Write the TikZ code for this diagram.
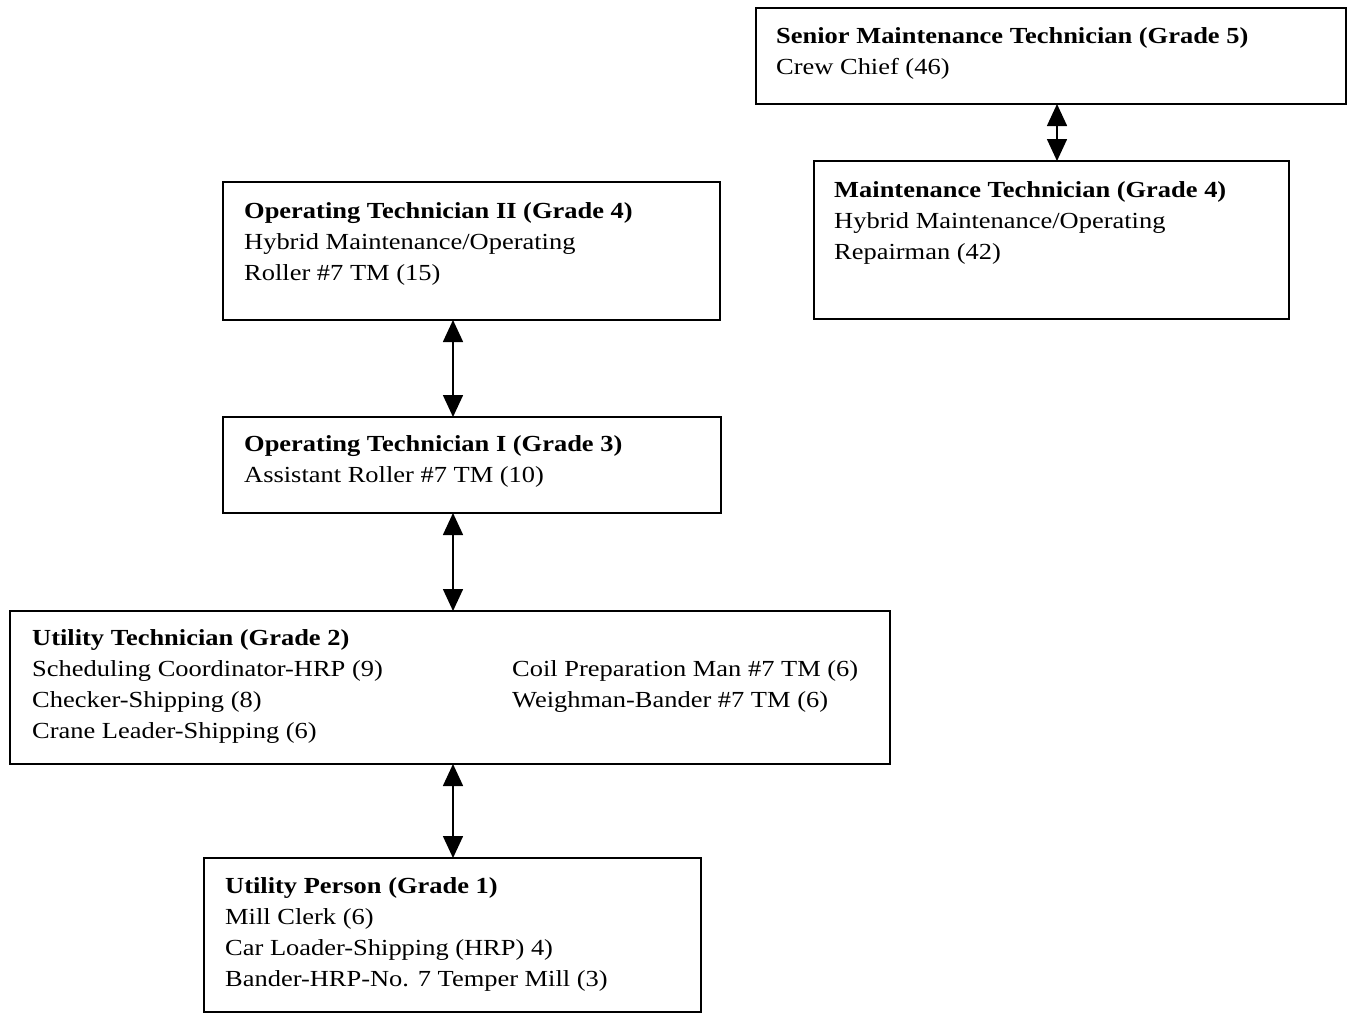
\documentclass[tikz,border=0pt]{standalone}
\usepackage{fontspec}
\setmainfont[FakeStretch=1.15]{Liberation Serif}
\usetikzlibrary{arrows.meta}
\tikzset{
  box/.style={draw, line width=1.8pt, inner sep=0pt, rectangle},
  txt/.style={anchor=north west, inner sep=0pt, align=left, font=\fontsize{23}{31}\selectfont},
  link/.style={line width=1.6pt, {Triangle[width=20pt,length=22pt]}-{Triangle[width=20pt,length=22pt]}, shorten <=0pt, shorten >=0pt}
}
\begin{document}
\begin{tikzpicture}[x=1pt,y=-1pt]
\useasboundingbox (0,0) rectangle (1350,1013);
% boxes
\node[box, minimum width=590pt, minimum height=96pt] (smt) at (1051,56) {};
\node[box, minimum width=475pt, minimum height=158pt] (mt) at (1051.5,240) {};
\node[box, minimum width=497pt, minimum height=138pt] (ot2) at (471.5,251) {};
\node[box, minimum width=498pt, minimum height=96pt] (ot1) at (472,465) {};
\node[box, minimum width=880pt, minimum height=153pt] (ut) at (450,687.5) {};
\node[box, minimum width=497pt, minimum height=154pt] (up) at (452.5,935) {};
% texts
\node[txt] (smtT) at (776,27) {\textbf{Senior Maintenance Technician (Grade 5)}\\Crew Chief (46)};
\node[txt] (mtT) at (834,181) {\textbf{Maintenance Technician (Grade 4)}\\Hybrid Maintenance/Operating\\Repairman (42)};
\node[txt] (ot2T) at (244,202) {\textbf{Operating Technician II (Grade 4)}\\Hybrid Maintenance/Operating\\Roller \#7 TM (15)};
\node[txt] (ot1T) at (244,435) {\textbf{Operating Technician I (Grade 3)}\\Assistant Roller \#7 TM (10)};
\node[txt] (utT) at (32,629) {\textbf{Utility Technician (Grade 2)}\\Scheduling Coordinator-HRP (9)\\Checker-Shipping (8)\\Crane Leader-Shipping (6)};
\node[txt] (utT2) at (512,660) {Coil Preparation Man \#7 TM (6)\\Weighman-Bander \#7 TM (6)};
\node[txt] (upT) at (225,877) {\textbf{Utility Person (Grade 1)}\\Mill Clerk (6)\\Car Loader-Shipping (HRP) 4)\\Bander-HRP-No. 7 Temper Mill (3)};
% connectors
\coordinate (a1) at (1057,104);
\coordinate (a2) at (1057,161);
\draw[link] (a1) -- (a2);
\coordinate (b1) at (453,320);
\coordinate (b2) at (453,417);
\draw[link] (b1) -- (b2);
\coordinate (c1) at (453,513);
\coordinate (c2) at (453,611);
\draw[link] (c1) -- (c2);
\coordinate (d1) at (453,764);
\coordinate (d2) at (453,858);
\draw[link] (d1) -- (d2);
\end{tikzpicture}
\end{document}
